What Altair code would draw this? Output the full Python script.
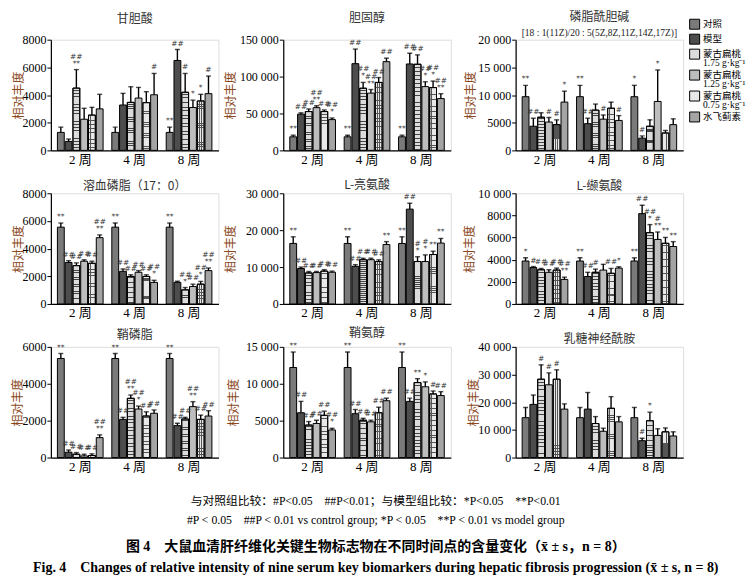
import altair as alt
import pandas as pd

SERIF = "Liberation Serif, Noto Sans CJK SC"
CJK = "Noto Sans CJK SC"

WEEKS = ["2 周", "4 周", "8 周"]
GROUPS = ["对照", "模型", "蒙古扁桃 1.75 g·kg⁻¹", "蒙古扁桃 1.25 g·kg⁻¹", "蒙古扁桃 0.75 g·kg⁻¹", "水飞蓟素"]
FILLS = ["#7a7a7a", "#4d4d4d", "#dcdcdc", "#bdbdbd", "#e8e8e8", "#a4a4a4"]

# ---- panel 1: 甘胆酸 ----
t1 = "甘胆酸"
ymax1, ticks1 = 8000, [0, 2000, 4000, 6000, 8000]
mean1 = [[1300, 650, 4500, 2250, 2550, 3000],
         [1300, 3280, 3470, 3780, 3450, 4020],
         [1300, 6500, 4200, 3100, 3570, 4100]]
sd1 = [[380, 170, 1340, 790, 560, 1050],
       [380, 840, 1130, 770, 790, 1540],
       [380, 790, 1360, 530, 480, 1270]]
sigc1 = [["", "", "##", "", "", ""], ["", "", "", "", "", "#"], ["", "##", "#", "", "", "#"]]
sigm1 = [["", "", "**", "", "", ""], ["", "", "", "", "", ""], ["**", "", "", "*", "*", ""]]

# ---- panel 2: 胆固醇 ----
t2 = "胆固醇"
ymax2, ticks2 = 150000, [0, 50000, 100000, 150000]
mean2 = [[18400, 49100, 52600, 57900, 52600, 41700],
         [18400, 117500, 84200, 77600, 92100, 120200],
         [18400, 117100, 116700, 86400, 85100, 70200]]
sd2 = [[2200, 1800, 3500, 2600, 2200, 2200],
       [2200, 19800, 7900, 4900, 6600, 4800],
       [2200, 14500, 12700, 6600, 8800, 6600]]
sigc2 = [["", "##", "##", "##", "##", "##"], ["", "##", "##", "##", "##", "##"], ["", "##", "##", "##", "##", "##"]]
sigm2 = [["**", "", "", "**", "", "*"], ["**", "", "*", "**", "", ""], ["**", "", "", "*", "*", "**"]]

# ---- panel 3: 磷脂酰胆碱 ----
t3 = "磷脂酰胆碱"
t3sub = "[18 : 1(11Z)/20 : 5(5Z,8Z,11Z,14Z,17Z)]"
ymax3, ticks3 = 20000, [0, 5000, 10000, 15000, 20000]
mean3 = [[9700, 4360, 5990, 5120, 4650, 8720],
         [9700, 4830, 7270, 5640, 7620, 5410],
         [9700, 2210, 4360, 8840, 3140, 4650]]
sd3 = [[2050, 1450, 810, 810, 870, 1980],
       [2050, 980, 1100, 760, 1100, 870],
       [2050, 410, 1160, 5690, 460, 1050]]
sigc3 = [["", "##", "", "#", "#", ""], ["", "##", "", "#", "", "#"], ["", "#", "", "", "", ""]]
sigm3 = [["**", "", "", "", "", "*"], ["**", "", "", "", "", ""], ["*", "", "", "*", "", ""]]

# ---- panel 4: 溶血磷脂（17：0） ----
t4 = "溶血磷脂（17：0）"
ymax4, ticks4 = 8000, [0, 2000, 4000, 6000, 8000]
mean4 = [[5550, 3000, 2770, 3090, 2940, 4790],
         [5550, 2360, 1990, 2290, 1990, 1560],
         [5550, 1560, 1020, 1260, 1430, 2410]]
sd4 = [[300, 130, 200, 100, 150, 200],
       [300, 170, 120, 120, 120, 150],
       [300, 80, 170, 170, 200, 190]]
sigc4 = [["", "##", "##", "##", "##", "##"], ["", "##", "##", "##", "##", "##"], ["", "", "##", "##", "##", "##"]]
sigm4 = [["**", "", "", "", "", "**"], ["**", "", "", "", "", "*"], ["**", "", "*", "", "*", "**"]]

# ---- panel 5: L-亮氨酸 ----
t5 = "L-亮氨酸"
ymax5, ticks5 = 30000, [0, 10000, 20000, 30000]
mean5 = [[16400, 9600, 8400, 8500, 8900, 8600],
         [16400, 10200, 12000, 12000, 11500, 16100],
         [16400, 25700, 11500, 11500, 13400, 16500]]
sd5 = [[1800, 400, 400, 300, 400, 300],
       [1800, 450, 400, 400, 450, 800],
       [1800, 1600, 1300, 1800, 900, 1250]]
sigc5 = [["", "##", "##", "##", "##", "##"], ["", "##", "##", "##", "##", ""], ["", "##", "#", "#", "", ""]]
sigm5 = [["**", "", "", "", "", ""], ["**", "", "", "", "", "**"], ["**", "", "*", "*", "**", "**"]]

# ---- panel 6: L-缬氨酸 ----
t6 = "L-缬氨酸"
ymax6, ticks6 = 10000, [0, 2000, 4000, 6000, 8000, 10000]
mean6 = [[3880, 3290, 3090, 2860, 3060, 2220],
         [3880, 2480, 2860, 3060, 2770, 3240],
         [3880, 8160, 6440, 5830, 5480, 5190]]
sd6 = [[290, 90, 120, 230, 180, 200],
       [290, 380, 290, 520, 440, 120],
       [290, 760, 730, 670, 530, 440]]
sigc6 = [["", "#", "##", "##", "##", "##"], ["", "##", "#", "", "##", ""], ["", "##", "##", "#", "", ""]]
sigm6 = [["*", "", "", "", "", "**"], ["**", "", "", "", "", "*"], ["**", "", "*", "**", "**", "**"]]

# ---- panel 7: 鞘磷脂 ----
t7 = "鞘磷脂"
ymax7, ticks7 = 6000, [0, 2000, 4000, 6000]
mean7 = [[5370, 290, 180, 90, 110, 1080],
         [5370, 2070, 3210, 2630, 2250, 2400],
         [5370, 1730, 2090, 2760, 2070, 2250]]
sd7 = [[270, 120, 90, 90, 90, 150],
       [270, 110, 180, 160, 230, 180],
       [270, 130, 90, 270, 230, 290]]
sigc7 = [["", "##", "##", "##", "##", "##"], ["", "##", "##", "##", "##", "##"], ["", "##", "##", "##", "##", "##"]]
sigm7 = [["**", "", "", "", "", "**"], ["**", "", "**", "*", "", ""], ["**", "", "", "**", "", ""]]

# ---- panel 8: 鞘氨醇 ----
t8 = "鞘氨醇"
ymax8, ticks8 = 15000, [0, 5000, 10000, 15000]
mean8 = [[12200, 6070, 4400, 4620, 5720, 3740],
         [12200, 5940, 5060, 4840, 6070, 7700],
         [12200, 7610, 10160, 9590, 8620, 8400]]
sd8 = [[2100, 1540, 480, 440, 570, 220],
       [2100, 570, 260, 220, 750, 350],
       [2100, 440, 530, 660, 400, 530]]
sigc8 = [["", "##", "##", "##", "##", "##"], ["", "##", "##", "##", "##", "##"], ["", "##", "", "", "#", "##"]]
sigm8 = [["**", "", "", "", "", "*"], ["**", "", "", "", "", ""], ["**", "", "**", "*", "", ""]]

# ---- panel 9: 乳糖神经酰胺 ----
t9 = "乳糖神经酰胺"
ymax9, ticks9 = 40000, [0, 10000, 20000, 30000, 40000]
mean9 = [[14400, 19200, 28300, 26300, 28300, 17500],
         [14400, 17500, 12300, 9500, 17800, 12900],
         [14400, 6100, 13300, 8000, 9300, 7800]]
sd9 = [[3700, 3400, 5200, 4300, 3400, 1900],
       [3700, 6000, 2500, 1100, 4200, 1900],
       [3700, 900, 3100, 2400, 1400, 1500]]
sigc9 = [["", "", "#", "#", "#", ""], ["", "", "", "", "", ""], ["", "#", "", "", "", ""]]
sigm9 = [["", "", "", "", "", ""], ["", "", "", "", "", ""], ["", "", "*", "", "", ""]]

PW, PH = 168, 111
CLEAR = "rgba(255,255,255,0)"


def stripes(n, frac, color, vertical):
    stops = []
    for k in range(n):
        a, b, c = k / n, (k + 1 - frac) / n, (k + 1) / n
        stops += [alt.GradientStop(offset=a, color=CLEAR), alt.GradientStop(offset=b, color=CLEAR),
                  alt.GradientStop(offset=b, color=color), alt.GradientStop(offset=c, color=color)]
    if vertical:
        return alt.Gradient(gradient="linear", stops=stops, x1=0, x2=1, y1=0, y2=0)
    return alt.Gradient(gradient="linear", stops=stops, x1=0, x2=0, y1=0, y2=1)


HSTRIPE = stripes(22, 0.25, "#444444", False)
VSTRIPE = stripes(3, 0.22, "#555555", True)
HGRID = stripes(26, 0.2, "#555555", False)

LEGEND = alt.Legend(
    title=None, orient="none", legendX=640, legendY=-21,
    symbolType="square", symbolSize=100, symbolStrokeColor="black", symbolStrokeWidth=1,
    labelFont=SERIF, labelFontSize=9.5, labelColor="black", labelOffset=3,
    labelExpr="indexof(datum.label, ' ') > 0 ? [slice(datum.label, 0, 4), slice(datum.label, 5)] : datum.label",
    rowPadding=0, padding=0, labelLimit=200,
)

LABEL_EXPR = "datum.value >= 10000 ? replace(format(datum.value, ','), ',', ' ') : format(datum.value, 'd')"


def panel(title, ymax, ticks, means, sds, sigc, sigm, toff, ytx, sub=None):
    rows = []
    for wi, w in enumerate(WEEKS):
        for gi, g in enumerate(GROUPS):
            m, s = means[wi][gi], sds[wi][gi]
            c, mm = sigc[wi][gi], sigm[wi][gi]
            rows.append(dict(week=w, group=g, mean=m, top=m + s,
                             lo=mm if mm else c, up=c if mm else ""))
    df = pd.DataFrame(rows)
    base = alt.Chart(df)
    x = alt.X("week:N", sort=WEEKS,
              scale=alt.Scale(paddingInner=0.16, paddingOuter=0.12),
              axis=alt.Axis(title=None, labelAngle=0, ticks=False, domainColor="black",
                            domainWidth=1.2, labelFont=SERIF, labelFontSize=13,
                            labelColor="black", labelPadding=3))
    xo = alt.XOffset("group:N", sort=GROUPS, scale=alt.Scale(domain=GROUPS, paddingInner=0.12))
    yaxis = alt.Axis(values=ticks, title="相对丰度", labelExpr=LABEL_EXPR, grid=False,
                     labelOverlap=False, labelFlush=False,
                     domainColor="black", domainWidth=1.2, tickColor="black",
                     tickSize=4, labelFont=SERIF, labelFontSize=12, labelColor="black",
                     labelPadding=1, titleFont=CJK, titleFontSize=12,
                     titleFontWeight="normal", titleColor="#8b4a1e",
                     titleX=ytx, titleBaseline="middle")
    yscale = alt.Scale(domain=[0, ymax], nice=False, zero=True)
    y = alt.Y("mean:Q", scale=yscale, axis=yaxis)
    ytop = alt.Y("top:Q", scale=yscale, axis=yaxis)
    bars = base.mark_bar(stroke="black", strokeWidth=1).encode(
        x=x, xOffset=xo, y=y,
        color=alt.Color("group:N", sort=GROUPS, scale=alt.Scale(domain=GROUPS, range=FILLS),
                        legend=LEGEND))
    g175 = base.transform_filter(alt.datum.group == GROUPS[2]).mark_bar(
        fill=HSTRIPE, stroke="black", strokeWidth=1).encode(x=x, xOffset=xo, y=y)
    g075a = base.transform_filter(alt.datum.group == GROUPS[4]).mark_bar(
        fill=HGRID, strokeWidth=0).encode(x=x, xOffset=xo, y=y)
    g075b = base.transform_filter(alt.datum.group == GROUPS[4]).mark_bar(
        fill=VSTRIPE, stroke="black", strokeWidth=1).encode(x=x, xOffset=xo, y=y)
    rule = base.mark_rule(color="black", strokeWidth=1.4).encode(
        x=x, xOffset=xo, y=y, y2="top:Q")
    cap = base.mark_tick(color="black", thickness=1.4, size=5).encode(
        x=x, xOffset=xo, y=ytop)
    lo = base.mark_text(dy=-2, baseline="bottom", fontSize=7.5, font="DejaVu Sans",
                        color="#333").encode(x=x, xOffset=xo, y=ytop, text="lo:N")
    up = base.mark_text(dy=-9, baseline="bottom", fontSize=7.5, font="DejaVu Sans",
                        color="#333").encode(x=x, xOffset=xo, y=ytop, text="up:N")
    tkw = dict(text=title, font=CJK, fontSize=12, fontWeight="normal",
               color="#333", offset=toff, anchor="middle", frame="group")
    if sub:
        tkw.update(subtitle=sub, subtitleFont=SERIF, subtitleFontSize=9.5,
                   subtitleColor="#222", subtitlePadding=4)
    return alt.layer(bars, g175, g075a, g075b, rule, cap, lo, up).properties(
        width=PW, height=PH, title=alt.TitleParams(**tkw))


panels = [
    panel(t1, ymax1, ticks1, mean1, sd1, sigc1, sigm1, 7, -32),
    panel(t2, ymax2, ticks2, mean2, sd2, sigc2, sigm2, 7, -53),
    panel(t3, ymax3, ticks3, mean3, sd3, sigc3, sigm3, -5, -45, sub=t3sub),
    panel(t4, ymax4, ticks4, mean4, sd4, sigc4, sigm4, -6, -32),
    panel(t5, ymax5, ticks5, mean5, sd5, sigc5, sigm5, -6, -53),
    panel(t6, ymax6, ticks6, mean6, sd6, sigc6, sigm6, -6, -46),
    panel(t7, ymax7, ticks7, mean7, sd7, sigc7, sigm7, -5, -33),
    panel(t8, ymax8, ticks8, mean8, sd8, sigc8, sigm8, -5, -50),
    panel(t9, ymax9, ticks9, mean9, sd9, sigc9, sigm9, -5, -42),
]

cap_lines = ["与对照组比较：#P<0.05　##P<0.01；与模型组比较：*P<0.05　**P<0.01",
             "#P < 0.05　##P < 0.01 vs control group; *P < 0.05　**P < 0.01 vs model group"]
fig_lines = ["图 4　大鼠血清肝纤维化关键生物标志物在不同时间点的含量变化（x̄ ± s，n = 8）",
             "Fig. 4　Changes of relative intensity of nine serum key biomarkers during hepatic fibrosis progression (x̄ ± s, n = 8)"]

chart = alt.ConcatChart(
    concat=panels, columns=3, spacing={"row": 43, "column": 65}, bounds="flush",
).properties(
    padding={"left": 3, "top": 2, "right": 0, "bottom": 0},
    title=alt.TitleParams(text=cap_lines, subtitle=fig_lines, orient="bottom", anchor="middle",
                          font=SERIF, fontSize=11.8, fontWeight="normal", color="black",
                          lineHeight=19, subtitleFont=SERIF, subtitleFontSize=14,
                          subtitleFontWeight="bold", subtitleColor="black",
                          subtitleLineHeight=21, subtitlePadding=13, offset=22, dx=-3),
).configure_view(stroke=None).configure_axisY(labelOverlap=False).configure(
    style={"guide-label": {"lineHeight": 9}})

chart.save("out.html", embed_options={"renderer": "svg", "actions": False})
